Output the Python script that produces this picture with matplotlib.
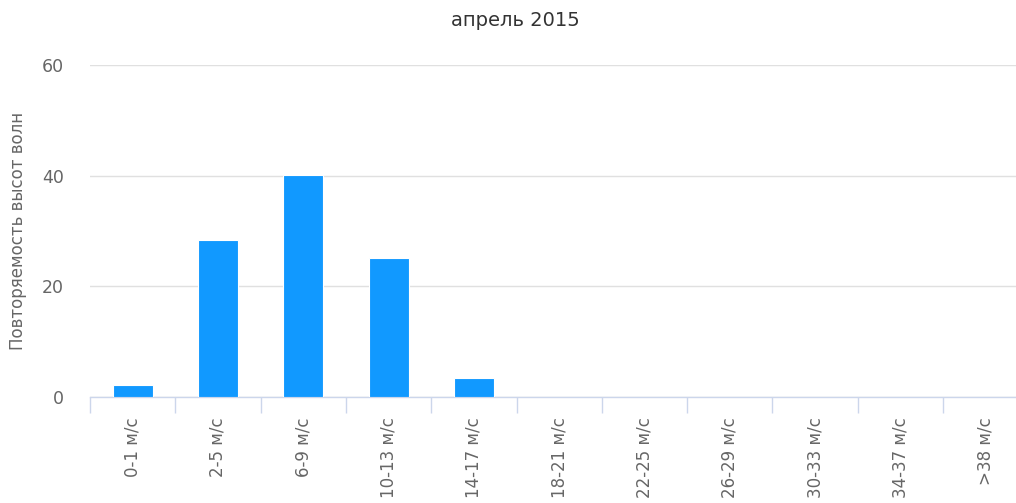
import matplotlib
matplotlib.use("Agg")
import matplotlib.pyplot as plt
import numpy as np

plt.rcParams['font.family'] = ['DejaVu Sans']

title = "апрель 2015"
ylabel = "Повторяемость высот волн"
categories = ["0-1 м/с", "2-5 м/с", "6-9 м/с", "10-13 м/с", "14-17 м/с", "18-21 м/с",
              "22-25 м/с", "26-29 м/с", "30-33 м/с", "34-37 м/с", ">38 м/с"]
values = [2.1, 28.4, 40.2, 25.1, 3.4, 0, 0, 0, 0, 0, 0]
yticks = [0, 20, 40, 60]

W, H = 1016, 503
fig = plt.figure(figsize=(W / 100, H / 100), dpi=100)
left, right, top, bottom = 90, 90 + 11 * 85.3, 65, 397
ax = fig.add_axes([left / W, 1 - bottom / H, (right - left) / W, (bottom - top) / H])

x = np.arange(len(categories))
ax.bar(x, values, width=0.47, color="#1199ff", edgecolor="#ffffff", linewidth=0.8, zorder=3)

ax.set_xlim(-0.5, len(categories) - 0.5)
ax.set_ylim(0, 60)
ax.set_yticks(yticks)
ax.set_yticklabels([str(v) for v in yticks], fontsize=12.5, color="#666666")
ax.yaxis.grid(True, color="#e0e0e0", linewidth=1, zorder=0)
ax.tick_params(axis='y', length=0, pad=19)

ax.set_xticks(x)
ax.set_xticklabels(categories, rotation=90, fontsize=12, color="#666666", va="top")
ax.set_xticks(np.arange(len(categories) + 1) - 0.5, minor=True)
ax.tick_params(axis='x', which='major', length=0, pad=14.5)
ax.tick_params(axis='x', which='minor', length=11.5, color="#ccd6eb", width=1)

for s in ["top", "right", "left"]:
    ax.spines[s].set_visible(False)
ax.spines["bottom"].set_color("#ccd6eb")
ax.spines["bottom"].set_linewidth(1)
ax.set_axisbelow(True)

fig.text(515 / W, 1 - 20 / H, title, ha="center", va="center", fontsize=14, color="#333333")
fig.text(18 / W, 1 - 231 / H, ylabel, rotation=90, ha="center", va="center", fontsize=12, color="#666666")

fig.savefig("out.png", dpi=100, facecolor="white")
